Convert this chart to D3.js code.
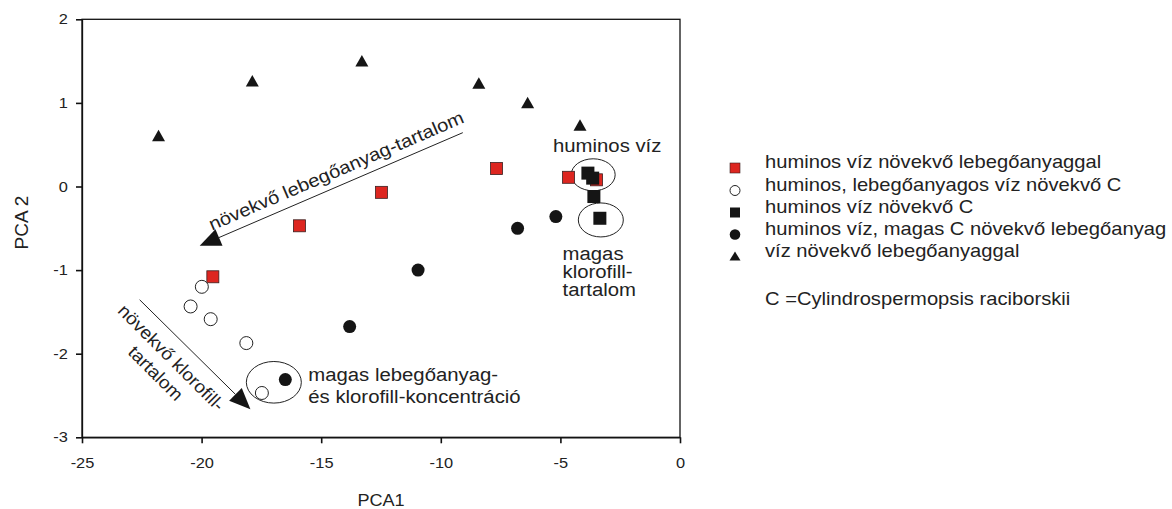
<!DOCTYPE html>
<html><head><meta charset="utf-8">
<script src="https://cdn.jsdelivr.net/npm/d3@7/dist/d3.min.js"></script>
<style>body{margin:0;background:#fff}svg{display:block}text{font-family:"Liberation Sans",Arial,sans-serif;fill:#222}</style>
</head><body><svg id="c" width="1172" height="509"></svg>
<script>
const xTicks = [-25,-20,-15,-10,-5,0];
const yTicks = [-3,-2,-1,0,1,2];
const seriesNames = ["huminos víz növekvő lebegőanyaggal","huminos, lebegőanyagos víz növekvő C","huminos víz növekvő C","huminos víz, magas C növekvő lebegőanyag","víz növekvő lebegőanyaggal"];
const redSquares = [[-12.48,-0.07],[-15.91,-0.47],[-7.67,0.215],[-4.66,0.11],[-3.49,0.08],[-19.53,-1.08]];
const openCircles = [[-19.99,-1.20],[-20.46,-1.435],[-19.62,-1.587],[-18.13,-1.873],[-17.48,-2.47]];
const blackSquares = [[-3.85,0.16],[-3.65,0.10],[-3.6,-0.12],[-3.35,-0.38]];
const blackCircles = [[-5.19,-0.36],[-6.79,-0.50],[-10.95,-1.0],[-13.81,-1.675],[-16.5,-2.31]];
const triangles = [[-21.8,0.60],[-17.88,1.255],[-13.3,1.495],[-8.41,1.228],[-6.37,0.997],[-4.18,0.726]];
const noteText = "C =Cylindrospermopsis raciborskii";

const SX = 1.13;
const svg = d3.select("#c");
const x = d3.scaleLinear().domain([-25,0]).range([82,680]);
const y = d3.scaleLinear().domain([-3,2]).range([437.3,19.3]);

function stext(px,py,str,size,opts={}){
  const rot = opts.rotate||0, anchor = opts.anchor||"start", sx = opts.sx||SX;
  const t = svg.append("text").attr("transform",`translate(${px},${py}) rotate(${rot}) scale(${sx},1)`)
    .attr("font-size",size).attr("text-anchor",anchor);
  const lines = Array.isArray(str)?str:[str];
  lines.forEach((l,i)=>t.append("tspan").attr("x",0).attr("dy",i?(opts.lh||size*1.2):0).text(l));
  if(opts.dy) t.attr("dy",opts.dy);
  return t;
}

// frame
svg.append("rect").attr("x",82).attr("y",19.3).attr("width",598).attr("height",418)
  .attr("fill","none").attr("stroke","#111").attr("stroke-width",1.3);
const xa = svg.append("g").attr("transform","translate(0,437.3)")
  .call(d3.axisBottom(x).tickValues(xTicks).tickFormat(d=>String(d)).tickSize(6).tickSizeOuter(0).tickPadding(14));
const ya = svg.append("g").attr("transform","translate(82,0)")
  .call(d3.axisLeft(y).tickValues(yTicks).tickFormat(d=>String(d)).tickSize(6).tickSizeOuter(0).tickPadding(6.5));
[xa,ya].forEach(a=>{a.select(".domain").attr("stroke","#111").attr("stroke-width",1.3);
  a.selectAll(".tick line").attr("stroke","#111").attr("stroke-width",1.6);
  a.selectAll("text").attr("font-size",14.5).attr("font-family","Liberation Sans, Arial").attr("fill","#222")
   .attr("transform",`scale(${SX},1)`);});

stext(381,506,"PCA1",16,{anchor:"middle"});
stext(28,222.5,"PCA 2",19,{anchor:"middle",rotate:-90,sx:1});

const g = svg.append("g");
const sq = 12;
// annotation ellipses
const ell = [[-3.63,0.14,22,16],[-3.31,-0.40,22.5,17],[-16.98,-2.342,27.5,20.8]];
g.selectAll("ellipse").data(ell).join("ellipse").attr("cx",d=>x(d[0])).attr("cy",d=>y(d[1]))
  .attr("rx",d=>d[2]).attr("ry",d=>d[3]).attr("fill","none").attr("stroke","#222").attr("stroke-width",1);

// points
g.selectAll(".tri").data(triangles).join("path").attr("class","tri")
  .attr("transform",d=>`translate(${x(d[0])},${y(d[1])})`).attr("d","M0,-6.5L6.5,5L-6.5,5Z").attr("fill","#151515");
g.selectAll(".rs").data(redSquares).join("rect").attr("class","rs")
  .attr("x",d=>x(d[0])-sq/2).attr("y",d=>y(d[1])-sq/2).attr("width",sq).attr("height",sq)
  .attr("fill","#dd2620").attr("stroke","#3a2020").attr("stroke-width",0.8);
g.selectAll(".bs").data(blackSquares).join("rect").attr("class","bs")
  .attr("x",d=>x(d[0])-6.5).attr("y",d=>y(d[1])-6.5).attr("width",13).attr("height",13).attr("fill","#151515");
g.selectAll(".oc").data(openCircles).join("circle").attr("class","oc")
  .attr("cx",d=>x(d[0])).attr("cy",d=>y(d[1])).attr("r",6.5).attr("fill","#fff").attr("stroke","#222").attr("stroke-width",1);
g.selectAll(".bc").data(blackCircles).join("circle").attr("class","bc")
  .attr("cx",d=>x(d[0])).attr("cy",d=>y(d[1])).attr("r",6.5).attr("fill","#151515");

// arrows
function arrow(x1,y1,x2,y2){
  const px1=x(x1),py1=y(y1),px2=x(x2),py2=y(y2);
  const a=Math.atan2(py2-py1,px2-px1), L=21, W=9;
  const bx=px2-L*Math.cos(a), by=py2-L*Math.sin(a);
  g.append("line").attr("x1",px1).attr("y1",py1).attr("x2",bx).attr("y2",by).attr("stroke","#222").attr("stroke-width",1);
  const nx=-Math.sin(a),ny=Math.cos(a);
  g.append("path").attr("d",`M${px2},${py2}L${bx+nx*W},${by+ny*W}L${bx-nx*W},${by-ny*W}Z`).attr("fill","#151515");
}
arrow(-9.08,0.644,-20.08,-0.71);
arrow(-22.59,-1.355,-17.96,-2.663);

// annotation texts
stext(x(-19.57),y(-0.53),"növekvő lebegőanyag-tartalom",18,{rotate:-23.2,sx:1.12});
stext(x(-21.45),y(-2.10),["növekvő klorofill-","tartalom"],18,{rotate:45,anchor:"middle",lh:22,sx:1.06});
stext(x(-5.31),y(0.409),"huminos víz",18);
stext(x(-4.91),y(-0.885),["magas","klorofill-","tartalom"],18,{lh:18});
stext(x(-15.54),y(-2.324),["magas lebegőanyag-","és klorofill-koncentráció"],18,{lh:22});

// legend
const lg = svg.append("g");
const ly = [168,190.5,212.5,234.5,256.5];
const lx = 735;
const shapes = ["rs","oc","bs","bc","tri"];
shapes.forEach((s,i)=>{
  const cy=ly[i];
  if(s==="rs") lg.append("rect").attr("x",lx-5).attr("y",cy-5).attr("width",10).attr("height",10).attr("fill","#dd2620").attr("stroke","#3a2020").attr("stroke-width",0.6);
  if(s==="oc") lg.append("circle").attr("cx",lx).attr("cy",cy).attr("r",5).attr("fill","#fff").attr("stroke","#222");
  if(s==="bs") lg.append("rect").attr("x",lx-5).attr("y",cy-5).attr("width",10).attr("height",10).attr("fill","#151515");
  if(s==="bc") lg.append("circle").attr("cx",lx).attr("cy",cy).attr("r",5.3).attr("fill","#151515");
  if(s==="tri") lg.append("path").attr("transform",`translate(${lx},${cy})`).attr("d","M0,-5L5.5,4L-5.5,4Z").attr("fill","#151515");
  stext(765,cy,seriesNames[i],18,{dy:"0.35em",sx:1.12});
});
stext(765,305,noteText,18,{dy:"0.35em",sx:1.12});
</script></body></html>
